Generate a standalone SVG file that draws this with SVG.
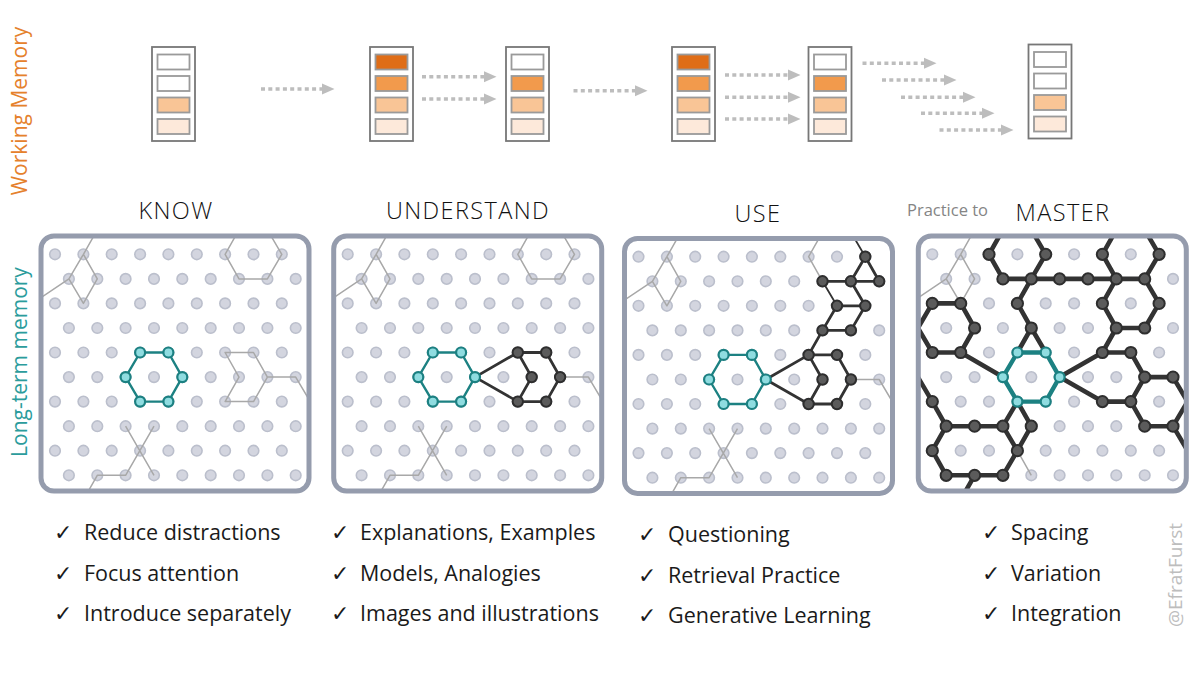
<svg xmlns="http://www.w3.org/2000/svg" width="1200" height="675" viewBox="0 0 1200 675">
<style>
.bg{fill:#fff}
.frame{fill:none;stroke:#959CAD;stroke-width:5}
.dot{fill:#D3D5DF;stroke:#BBBFCC;stroke-width:1.6}
.ge{fill:none;stroke:#A8A8A8;stroke-width:1.5;stroke-linejoin:round}
.de{fill:none;stroke:#333;stroke-width:2.8;stroke-linejoin:round;stroke-linecap:round}
.de4{fill:none;stroke:#333;stroke-width:4.6;stroke-linejoin:round;stroke-linecap:round}
.dthin{fill:none;stroke:#333;stroke-width:1.8}
.dn{fill:#5B5B5B;stroke:#2E2E2E;stroke-width:2}
.te{fill:none;stroke:#1C8182;stroke-width:2.4;stroke-linejoin:round}
.te4{fill:none;stroke:#1C8182;stroke-width:4.4;stroke-linejoin:round}
.tn{fill:#8FDCE0;stroke:#1C8182;stroke-width:2.2}
.box{fill:#fff;stroke:#777;stroke-width:1.8}
.slot{stroke:#9A9A9A;stroke-width:1.8}
.s0{fill:#fff}.s1{fill:#DF6D17}.s2{fill:#F29A4C}.s3{fill:#F9C596}.s4{fill:#FDE9DA}
.arr{fill:none;stroke:#BDBDBD;stroke-width:3.6;stroke-dasharray:4 3.3}
.title{font-family:'Open Sans','Liberation Sans',sans-serif;font-weight:350;font-size:23.5px;fill:#111;text-anchor:middle;letter-spacing:1.4px}
.item{font-family:'Open Sans','Liberation Sans',sans-serif;font-size:21.5px;fill:#1a1a1a}
.chk{font-family:'DejaVu Sans',sans-serif;font-size:22px;fill:#1a1a1a}
</style>
<defs>
<marker id="ah" markerUnits="userSpaceOnUse" markerWidth="13" markerHeight="12" refX="0" refY="6" orient="auto">
<path d="M0,0.5 L12.5,6 L0,11.5 Z" fill="#BDBDBD"/>
</marker>
<clipPath id="pclip"><rect x="41" y="236" width="268" height="255" rx="13"/></clipPath>
<g id="rowE"><circle class="dot" cx="55" cy="0" r="5.3"/><circle class="dot" cx="83.4" cy="0" r="5.3"/><circle class="dot" cx="111.7" cy="0" r="5.3"/><circle class="dot" cx="140.1" cy="0" r="5.3"/><circle class="dot" cx="168.4" cy="0" r="5.3"/><circle class="dot" cx="196.8" cy="0" r="5.3"/><circle class="dot" cx="225.1" cy="0" r="5.3"/><circle class="dot" cx="253.5" cy="0" r="5.3"/><circle class="dot" cx="281.8" cy="0" r="5.3"/></g>
<g id="rowO"><circle class="dot" cx="68.9" cy="0" r="5.3"/><circle class="dot" cx="97.3" cy="0" r="5.3"/><circle class="dot" cx="125.6" cy="0" r="5.3"/><circle class="dot" cx="154" cy="0" r="5.3"/><circle class="dot" cx="182.3" cy="0" r="5.3"/><circle class="dot" cx="210.7" cy="0" r="5.3"/><circle class="dot" cx="239" cy="0" r="5.3"/><circle class="dot" cx="267.4" cy="0" r="5.3"/><circle class="dot" cx="295.7" cy="0" r="5.3"/></g>
<g id="lattice">
<use href="#rowE" y="254.3"/><use href="#rowO" y="278.9"/><use href="#rowE" y="303.4"/><use href="#rowO" y="328"/><use href="#rowE" y="352.5"/><use href="#rowO" y="377.1"/><use href="#rowE" y="401.6"/><use href="#rowO" y="426.2"/><use href="#rowE" y="450.7"/><use href="#rowO" y="475.3"/>
</g>
<g id="tealNodes"><circle class="tn" cx="140.1" cy="352.5" r="5"/><circle class="tn" cx="168.4" cy="352.5" r="5"/><circle class="tn" cx="182.3" cy="377.1" r="5"/><circle class="tn" cx="168.4" cy="401.6" r="5"/><circle class="tn" cx="140.1" cy="401.6" r="5"/><circle class="tn" cx="125.6" cy="377.1" r="5"/></g>
<g id="sigNodes"><circle class="dn" cx="225.1" cy="352.5" r="5.2"/><circle class="dn" cx="253.5" cy="352.5" r="5.2"/><circle class="dn" cx="239" cy="377.1" r="5.2"/><circle class="dn" cx="267.4" cy="377.1" r="5.2"/><circle class="dn" cx="225.1" cy="401.6" r="5.2"/><circle class="dn" cx="253.5" cy="401.6" r="5.2"/></g>
</defs>
<rect width="1200" height="675" fill="#fff"/>

<g id="side-labels">
<text transform="translate(27,111) rotate(-90)" text-anchor="middle" font-family="'Open Sans','Liberation Sans',sans-serif" font-size="21" fill="#E5812C">Working Memory</text>
<text transform="translate(27,362) rotate(-90)" text-anchor="middle" font-family="'Open Sans','Liberation Sans',sans-serif" font-size="21" fill="#2B9C9C">Long-term memory</text>
<text transform="translate(1182,575) rotate(-90)" text-anchor="middle" font-family="'Open Sans','Liberation Sans',sans-serif" font-size="19" fill="#BDBDBD">@EfratFurst</text>
</g>

<g id="working-memory">
<g id="wm1"><rect class="box" x="152" y="47" width="43" height="94"/><rect class="slot s0" x="157.5" y="54.5" width="32" height="15"/><rect class="slot s0" x="157.5" y="76" width="32" height="15"/><rect class="slot s3" x="157.5" y="97.5" width="32" height="15"/><rect class="slot s4" x="157.5" y="119" width="32" height="15"/></g>
<g id="wm2"><rect class="box" x="370" y="47" width="43" height="94"/><rect class="slot s1" x="375.5" y="54.5" width="32" height="15"/><rect class="slot s2" x="375.5" y="76" width="32" height="15"/><rect class="slot s3" x="375.5" y="97.5" width="32" height="15"/><rect class="slot s4" x="375.5" y="119" width="32" height="15"/></g>
<g id="wm3"><rect class="box" x="506" y="47" width="43" height="94"/><rect class="slot s0" x="511.5" y="54.5" width="32" height="15"/><rect class="slot s2" x="511.5" y="76" width="32" height="15"/><rect class="slot s3" x="511.5" y="97.5" width="32" height="15"/><rect class="slot s4" x="511.5" y="119" width="32" height="15"/></g>
<g id="wm4"><rect class="box" x="672" y="47" width="43" height="94"/><rect class="slot s1" x="677.5" y="54.5" width="32" height="15"/><rect class="slot s2" x="677.5" y="76" width="32" height="15"/><rect class="slot s3" x="677.5" y="97.5" width="32" height="15"/><rect class="slot s4" x="677.5" y="119" width="32" height="15"/></g>
<g id="wm5"><rect class="box" x="808.5" y="47" width="43" height="94"/><rect class="slot s0" x="814" y="54.5" width="32" height="15"/><rect class="slot s2" x="814" y="76" width="32" height="15"/><rect class="slot s3" x="814" y="97.5" width="32" height="15"/><rect class="slot s4" x="814" y="119" width="32" height="15"/></g>
<g id="wm6"><rect class="box" x="1028.5" y="44.5" width="43" height="94"/><rect class="slot s0" x="1034" y="52" width="32" height="15"/><rect class="slot s0" x="1034" y="73.5" width="32" height="15"/><rect class="slot s3" x="1034" y="95" width="32" height="15"/><rect class="slot s4" x="1034" y="116.5" width="32" height="15"/></g>
</g>

<g id="connectors">
<line class="arr" x1="261" y1="89" x2="322" y2="89" marker-end="url(#ah)"/>
<line class="arr" x1="422" y1="76.7" x2="484" y2="76.7" marker-end="url(#ah)"/>
<line class="arr" x1="422" y1="99" x2="484" y2="99" marker-end="url(#ah)"/>
<line class="arr" x1="573.5" y1="90.7" x2="635" y2="90.7" marker-end="url(#ah)"/>
<line class="arr" x1="725" y1="75" x2="788" y2="75" marker-end="url(#ah)"/>
<line class="arr" x1="725" y1="97.3" x2="788" y2="97.3" marker-end="url(#ah)"/>
<line class="arr" x1="725" y1="119" x2="788" y2="119" marker-end="url(#ah)"/>
<line class="arr" x1="862.5" y1="63.3" x2="924" y2="63.3" marker-end="url(#ah)"/>
<line class="arr" x1="882" y1="80" x2="944" y2="80" marker-end="url(#ah)"/>
<line class="arr" x1="901" y1="97.3" x2="963" y2="97.3" marker-end="url(#ah)"/>
<line class="arr" x1="921" y1="113.3" x2="982" y2="113.3" marker-end="url(#ah)"/>
<line class="arr" x1="939.5" y1="130" x2="1001" y2="130" marker-end="url(#ah)"/>
</g>

<g id="titles">
<text class="title" x="176" y="218.5">KNOW</text>
<text class="title" x="468" y="218.5">UNDERSTAND</text>
<text class="title" x="758" y="221.5">USE</text>
<text x="907" y="215.5" font-family="'Open Sans','Liberation Sans',sans-serif" font-size="16.5" fill="#858585">Practice to</text>
<text class="title" x="1063" y="221" >MASTER</text>
</g>

<g id="panel-know">
<rect class="bg" x="41" y="236" width="268" height="255" rx="13"/>
<g clip-path="url(#pclip)">
<use href="#lattice"/>
<path class="ge" d="M83.4,254.3 L97.3,229.8 M83.4,254.3 L68.9,278.9 L83.4,303.4 L97.3,278.9 Z M68.9,278.9 L30,305 M239,229.8 L225.1,254.3 L239,278.9 L267.4,278.9 L281.8,254.3 L267.4,229.8 M239,377.1 L225.1,352.5 L253.5,352.5 L267.4,377.1 L253.5,401.6 L225.1,401.6 Z M267.4,377.1 L295.7,377.1 L310.2,401.6 M125.6,426.2 L154,475.3 M154,426.2 L125.6,475.3 L97.3,475.3 L83.4,499.8"/>
<path class="te" d="M140.1,352.5 L168.4,352.5 L182.3,377.1 L168.4,401.6 L140.1,401.6 L125.6,377.1 Z"/>
<use href="#tealNodes"/>
</g>
<rect class="frame" x="41" y="236" width="268" height="255" rx="13"/>
</g>

<g id="panel-understand" transform="translate(292.7,0)">
<rect class="bg" x="41" y="236" width="268" height="255" rx="13"/>
<g clip-path="url(#pclip)">
<use href="#lattice"/>
<path class="ge" d="M83.4,254.3 L97.3,229.8 M83.4,254.3 L68.9,278.9 L83.4,303.4 L97.3,278.9 Z M68.9,278.9 L30,305 M239,229.8 L225.1,254.3 L239,278.9 L267.4,278.9 L281.8,254.3 L267.4,229.8 M267.4,377.1 L295.7,377.1 L310.2,401.6 M125.6,426.2 L154,475.3 M154,426.2 L125.6,475.3 L97.3,475.3 L83.4,499.8"/>
<path class="de" d="M239,377.1 L225.1,352.5 L253.5,352.5 L267.4,377.1 L253.5,401.6 L225.1,401.6 Z M225.1,352.5 L182.3,377.1 L225.1,401.6"/>
<use href="#sigNodes"/>
<path class="te" d="M140.1,352.5 L168.4,352.5 L182.3,377.1 L168.4,401.6 L140.1,401.6 L125.6,377.1 Z"/>
<use href="#tealNodes"/>
</g>
<rect class="frame" x="41" y="236" width="268" height="255" rx="13"/>
</g>

<g id="panel-use" transform="translate(583.5,2.4)">
<rect class="bg" x="41" y="236" width="268" height="255" rx="13"/>
<g clip-path="url(#pclip)">
<use href="#lattice"/>
<path class="ge" d="M83.4,254.3 L97.3,229.8 M83.4,254.3 L68.9,278.9 L83.4,303.4 L97.3,278.9 Z M68.9,278.9 L30,305 M239,229.8 L225.1,254.3 L239,278.9 M267.4,377.1 L295.7,377.1 L310.2,401.6 M125.6,426.2 L154,475.3 M154,426.2 L125.6,475.3 L97.3,475.3 L83.4,499.8"/>
<path class="dthin" d="M267.4,229.8 L281.8,254.3 M239,278.9 L253.5,303.4"/>
<path class="de" d="M239,377.1 L225.1,352.5 L253.5,352.5 L267.4,377.1 L253.5,401.6 L225.1,401.6 Z M225.1,352.5 L182.3,377.1 L225.1,401.6 M267.4,278.9 L281.8,254.3 L295.7,278.9 M239,278.9 L295.7,278.9 M267.4,278.9 L281.8,303.4 M253.5,303.4 L281.8,303.4 M253.5,303.4 L239,328 M281.8,303.4 L267.4,328 M239,328 L267.4,328 M239,328 L225.1,352.5"/>
<use href="#sigNodes"/>
<circle class="dn" cx="281.8" cy="254.3" r="5.2"/><circle class="dn" cx="239" cy="278.9" r="5.2"/><circle class="dn" cx="267.4" cy="278.9" r="5.2"/><circle class="dn" cx="295.7" cy="278.9" r="5.2"/><circle class="dn" cx="253.5" cy="303.4" r="5.2"/><circle class="dn" cx="281.8" cy="303.4" r="5.2"/><circle class="dn" cx="239" cy="328" r="5.2"/><circle class="dn" cx="267.4" cy="328" r="5.2"/>
<path class="te" d="M140.1,352.5 L168.4,352.5 L182.3,377.1 L168.4,401.6 L140.1,401.6 L125.6,377.1 Z"/>
<use href="#tealNodes"/>
</g>
<rect class="frame" x="41" y="236" width="268" height="255" rx="13"/>
</g>

<g id="panel-master" transform="translate(877.3,0)">
<rect class="bg" x="41" y="236" width="268" height="255" rx="13"/>
<g clip-path="url(#pclip)">
<use href="#lattice"/>
<path class="ge" d="M83.4,254.3 L97.3,229.8 M83.4,254.3 L68.9,278.9 L83.4,303.4 L97.3,278.9 Z M68.9,278.9 L30,305 M140.1,450.7 L154,475.3"/>
<path class="de4" d="M111.7,254.3 L125.6,229.8 M154,229.8 L168.4,254.3 L154,278.9 M125.6,278.9 L111.7,254.3 M125.6,278.9 L267.4,278.9 M225.1,254.3 L239,229.8 M267.4,229.8 L281.8,254.3 L267.4,278.9 M239,278.9 L225.1,254.3 M267.4,278.9 L281.8,303.4 L267.4,328 L239,328 L225.1,303.4 L239,278.9 M239,328 L225.1,352.5 L253.5,352.5 L267.4,377.1 L295.7,377.1 L310.2,401.6 L295.7,426.2 M267.4,377.1 L253.5,401.6 L267.4,426.2 L295.7,426.2 L310.2,450.7 M225.1,401.6 L253.5,401.6 M225.1,352.5 L182.3,377.1 L225.1,401.6 M154,278.9 L140.1,303.4 L154,328 L140.1,352.5 M154,328 L168.4,352.5 M55,303.4 L83.4,303.4 L97.3,328 L83.4,352.5 L55,352.5 L40.6,328 Z M83.4,352.5 L125.6,377.1 M140.1,401.6 L125.6,426.2 M140.1,401.6 L154,426.2 L140.1,450.7 M68.9,426.2 L125.6,426.2 L140.1,450.7 L125.6,475.3 L68.9,475.3 L55,450.7 Z M97.3,475.3 L83.4,499.8 M68.9,426.2 L55,401.6 L40.6,377.1"/>
<g>
<circle class="dn" cx="111.7" cy="254.3" r="5.6"/><circle class="dn" cx="168.4" cy="254.3" r="5.6"/><circle class="dn" cx="225.1" cy="254.3" r="5.6"/><circle class="dn" cx="281.8" cy="254.3" r="5.6"/>
<circle class="dn" cx="125.6" cy="278.9" r="5.6"/><circle class="dn" cx="154" cy="278.9" r="5.6"/><circle class="dn" cx="182.3" cy="278.9" r="5.6"/><circle class="dn" cx="210.7" cy="278.9" r="5.6"/><circle class="dn" cx="239" cy="278.9" r="5.6"/><circle class="dn" cx="267.4" cy="278.9" r="5.6"/>
<circle class="dn" cx="55" cy="303.4" r="5.6"/><circle class="dn" cx="83.4" cy="303.4" r="5.6"/><circle class="dn" cx="140.1" cy="303.4" r="5.6"/><circle class="dn" cx="225.1" cy="303.4" r="5.6"/><circle class="dn" cx="281.8" cy="303.4" r="5.6"/>
<circle class="dn" cx="97.3" cy="328" r="5.6"/><circle class="dn" cx="154" cy="328" r="5.6"/><circle class="dn" cx="239" cy="328" r="5.6"/><circle class="dn" cx="267.4" cy="328" r="5.6"/>
<circle class="dn" cx="55" cy="352.5" r="5.6"/><circle class="dn" cx="83.4" cy="352.5" r="5.6"/><circle class="dn" cx="225.1" cy="352.5" r="5.6"/><circle class="dn" cx="253.5" cy="352.5" r="5.6"/>
<circle class="dn" cx="267.4" cy="377.1" r="5.6"/><circle class="dn" cx="295.7" cy="377.1" r="5.6"/>
<circle class="dn" cx="55" cy="401.6" r="5.6"/><circle class="dn" cx="225.1" cy="401.6" r="5.6"/><circle class="dn" cx="253.5" cy="401.6" r="5.6"/>
<circle class="dn" cx="68.9" cy="426.2" r="5.6"/><circle class="dn" cx="97.3" cy="426.2" r="5.6"/><circle class="dn" cx="125.6" cy="426.2" r="5.6"/><circle class="dn" cx="154" cy="426.2" r="5.6"/><circle class="dn" cx="267.4" cy="426.2" r="5.6"/><circle class="dn" cx="295.7" cy="426.2" r="5.6"/>
<circle class="dn" cx="55" cy="450.7" r="5.6"/><circle class="dn" cx="140.1" cy="450.7" r="5.6"/>
<circle class="dn" cx="68.9" cy="475.3" r="5.6"/><circle class="dn" cx="97.3" cy="475.3" r="5.6"/><circle class="dn" cx="125.6" cy="475.3" r="5.6"/>
</g>
<path class="te4" d="M140.1,352.5 L168.4,352.5 L182.3,377.1 L168.4,401.6 L140.1,401.6 L125.6,377.1 Z"/>
<use href="#tealNodes"/>
</g>
<rect class="frame" x="41" y="236" width="268" height="255" rx="13"/>
</g>

<g id="lists">
<g id="list-know">
<text class="chk" x="54" y="540">✓</text><text class="item" x="84" y="540">Reduce distractions</text>
<text class="chk" x="54" y="581">✓</text><text class="item" x="84" y="581">Focus attention</text>
<text class="chk" x="54" y="621">✓</text><text class="item" x="84" y="621">Introduce separately</text>
</g>
<g id="list-understand">
<text class="chk" x="331" y="540">✓</text><text class="item" x="360" y="540">Explanations, Examples</text>
<text class="chk" x="331" y="581">✓</text><text class="item" x="360" y="581">Models, Analogies</text>
<text class="chk" x="331" y="621">✓</text><text class="item" x="360" y="621">Images and illustrations</text>
</g>
<g id="list-use">
<text class="chk" x="638" y="542">✓</text><text class="item" x="668" y="542">Questioning</text>
<text class="chk" x="638" y="583">✓</text><text class="item" x="668" y="583">Retrieval Practice</text>
<text class="chk" x="638" y="623">✓</text><text class="item" x="668" y="623">Generative Learning</text>
</g>
<g id="list-master">
<text class="chk" x="982" y="540">✓</text><text class="item" x="1011" y="540">Spacing</text>
<text class="chk" x="982" y="581">✓</text><text class="item" x="1011" y="581">Variation</text>
<text class="chk" x="982" y="621">✓</text><text class="item" x="1011" y="621">Integration</text>
</g>
</g>
</svg>
